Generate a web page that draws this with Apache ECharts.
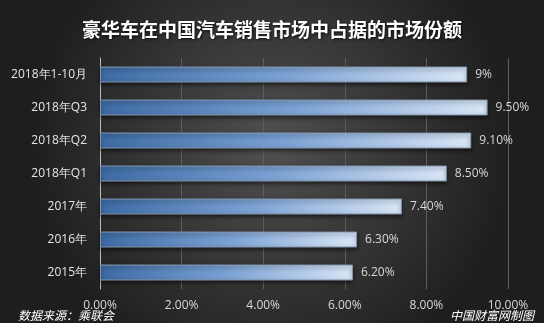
<!DOCTYPE html>
<html><head><meta charset="utf-8">
<script src="https://cdn.jsdelivr.net/npm/echarts@6/dist/echarts.min.js"></script>
<style>html,body{margin:0;padding:0;background:#2a2a2a}#c{width:544px;height:323px}</style>
</head><body><div id="c"></div>
<script>
const categories = ['2018年1-10月','2018年Q3','2018年Q2','2018年Q1','2017年','2016年','2015年'];
const shares = [9.0, 9.5, 9.1, 8.5, 7.4, 6.3, 6.2];
const valueLabels = ['9%','9.50%','9.10%','8.50%','7.40%','6.30%','6.20%'];
const xTicks = [0, 2, 4, 6, 8, 10];

const chart = echarts.init(document.getElementById('c'));
chart.setOption({
  backgroundColor: new echarts.graphic.RadialGradient(0.5, 0.45, 0.75, [
    {offset: 0, color: '#505050'},
    {offset: 1, color: '#1e1e1e'}
  ]),
  title: {
    text: '豪华车在中国汽车销售市场中占据的市场份额',
    left: 'center', top: 15,
    textStyle: {color: '#ffffff', fontSize: 19, fontWeight: 'bold',
      fontFamily: 'Noto Sans CJK SC', textShadowColor: 'rgba(0,0,0,0.8)', textShadowBlur: 3, textShadowOffsetX: 1, textShadowOffsetY: 1}
  },
  graphic: [
    {type: 'text', left: 18, top: 309, style: {text: '数据来源：乘联会', fill: '#ffffff', font: 'italic 12px "Noto Sans CJK SC"'}},
    {type: 'text', right: 10, top: 309, style: {text: '中国财富网制图', fill: '#ffffff', font: 'italic 12px "Noto Sans CJK SC"'}}
  ],
  grid: {left: 100, right: 36, top: 58, bottom: 34},
  xAxis: {
    type: 'value', min: xTicks[0], max: xTicks[xTicks.length - 1], interval: 2,
    axisLine: {show: false}, axisTick: {show: false},
    splitLine: {lineStyle: {color: '#5e5e5e', width: 1}},
    axisLabel: {color: '#d8d8d8', fontSize: 12, fontFamily: 'Open Sans', margin: 11,
      formatter: v => v.toFixed(2) + '%'}
  },
  yAxis: {
    type: 'category', data: categories, inverse: true,
    axisLine: {lineStyle: {color: '#bdbdbd', width: 1}},
    axisTick: {show: false},
    axisLabel: {color: '#e6e6e6', fontSize: 12, fontFamily: 'Open Sans', margin: 13}
  },
  series: [{
    type: 'bar', data: shares, barWidth: 16,
    itemStyle: {
      color: new echarts.graphic.LinearGradient(0, 0, 1, 0, [
        {offset: 0, color: '#3d6aa3'},
        {offset: 0.5, color: '#7aa1d3'},
        {offset: 1, color: '#d9e6f7'}
      ]),
      borderColor: '#8396ad', borderWidth: 1,
      shadowColor: 'rgba(0,0,0,0.6)', shadowBlur: 4, shadowOffsetY: 2
    },
    label: {show: true, position: 'right', distance: 8, color: '#d8d8d8', fontSize: 12,
      fontFamily: 'Open Sans', formatter: p => valueLabels[p.dataIndex]}
  }]
});
</script></body></html>
